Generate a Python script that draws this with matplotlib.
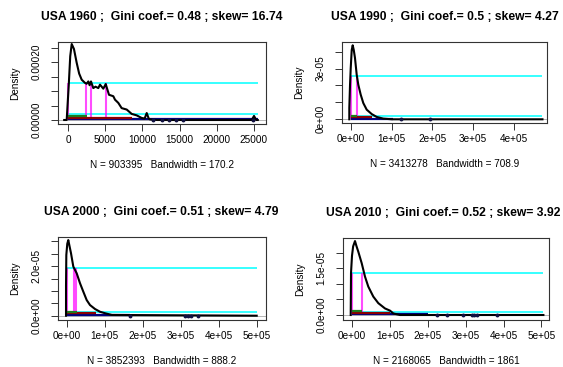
import matplotlib
matplotlib.use('Agg')
import matplotlib.pyplot as plt

plt.rcParams['font.family'] = ['Liberation Sans', 'DejaVu Sans']

W, H = 563, 367

years = ['1960', '1990', '2000', '2010']
gini = ['0.48', '0.5', '0.51', '0.52']
skew = ['16.74', '4.27', '4.79', '3.92']
n_obs = ['903395', '3413278', '3852393', '2168065']
bandwidth = ['170.2', '708.9', '888.2', '1861']

# density curves (income, density)
dens_x_1960 = [-510, -175, 100, 300, 500, 800, 1170, 1500, 1840, 2285, 2500, 2730, 2900, 3090,
               3400, 3700, 4075, 4300, 4745, 5070, 5510, 6090, 6320, 6760, 7210, 7890, 8560,
               9230, 9900, 10300, 10580, 10850, 11020, 12000, 24700, 25000, 25300, 25510]
dens_y_1960 = [0, 0, 1.2e-4, 2.2e-4, 2.62e-4, 2.45e-4, 1.97e-4, 1.6e-4, 1.39e-4, 1.28e-4,
               1.25e-4, 1.33e-4, 1.2e-4, 1.33e-4, 1.1e-4, 1.15e-4, 1.1e-4, 1.22e-4, 1.08e-4,
               1.24e-4, 0.87e-4, 0.82e-4, 0.70e-4, 0.59e-4, 0.41e-4, 0.36e-4, 0.21e-4,
               0.16e-4, 0.07e-4, 0.05e-4, 0.24e-4, 0.05e-4, 0.02e-4, 0, 0, 0.14e-4, 0, 0]

dens_x_1990 = [-3400, -3400, -1700, 0, 2500, 4900, 7500, 10500, 14700, 18600, 24500, 30900,
               39200, 51500, 63700, 79900, 101000, 470000]
dens_y_1990 = [0, 0.67e-5, 2.0e-5, 3.0e-5, 4.1e-5, 4.38e-5, 4.1e-5, 3.63e-5, 2.64e-5, 2.05e-5,
               1.46e-5, 0.96e-5, 0.57e-5, 0.31e-5, 0.14e-5, 0.04e-5, 0, 0]

dens_x_2000 = [-1800, -1800, -1000, 1500, 4200, 7500, 11300, 17400, 26300, 35000, 43700, 52600,
               61300, 74500, 87600, 100800, 119000, 500000]
dens_y_2000 = [0, 1.2e-5, 2.45e-5, 2.9e-5, 3.05e-5, 2.8e-5, 2.52e-5, 1.98e-5, 1.71e-5, 1.31e-5,
               0.97e-5, 0.63e-5, 0.43e-5, 0.27e-5, 0.16e-5, 0.10e-5, 0.03e-5, 0]

dens_x_2010 = [-3400, -2600, 0, 3000, 7900, 12000, 16600, 25600, 34300, 43000, 56200, 69400,
               87100, 100300, 109000, 126600, 505000]
dens_y_2010 = [0, 1.35e-5, 1.9e-5, 2.2e-5, 2.37e-5, 2.2e-5, 2.03e-5, 1.66e-5, 1.23e-5, 0.91e-5,
               0.59e-5, 0.38e-5, 0.21e-5, 0.14e-5, 0.05e-5, 0, 0]

# isolated incomes far out in the tail
tail_x = [[11470, 12590, 13580, 14480, 15500, 24910],
          [122500, 194000],
          [166800, 311000, 318000, 326000, 346000],
          [223000, 250000, 294000, 316000, 322000, 329000, 383000]]

# cyan reference levels and their extent
cyan_hi = [1.28e-4, 2.56e-5, 1.91e-5, 1.36e-5]
cyan_lo = [1.97e-5, 0.18e-5, 0.14e-5, 0.09e-5]
cyan_end = [25500, 470000, 500000, 505000]

# magenta verticals (income)
magenta_x = [[0, 2380, 3050, 5070], [0, 15000], [0, 19500, 23500], [0, 25600]]

# quantile bars along the bottom: (end, level)
green_bar = [(2510, 1.48e-5), (14700, 0.21e-5), (26300, 0.16e-5), (25600, 0.13e-5)]
red_bar = [(8560, 0.79e-5), (51500, 0.12e-5), (78000, 0.10e-5), (100000, 0.07e-5)]
navy_bar = [(25500, 0.24e-5), (103700, 0.04e-5), (167000, 0.03e-5), (201000, 0.02e-5)]

xticks = [[0, 5000, 10000, 15000, 20000, 25000],
          [0, 1e5, 2e5, 3e5, 4e5],
          [0, 1e5, 2e5, 3e5, 4e5, 5e5],
          [0, 1e5, 2e5, 3e5, 4e5, 5e5]]
xticklabels = [['0', '5000', '10000', '15000', '20000', '25000'],
               ['0e+00', '1e+05', '2e+05', '3e+05', '4e+05'],
               ['0e+00', '1e+05', '2e+05', '3e+05', '4e+05', '5e+05'],
               ['0e+00', '1e+05', '2e+05', '3e+05', '4e+05', '5e+05']]
yticks = [[0, 5e-5, 1e-4, 1.5e-4, 2e-4, 2.5e-4],
          [0, 1e-5, 2e-5, 3e-5, 4e-5],
          [0, 0.5e-5, 1e-5, 1.5e-5, 2e-5, 2.5e-5, 3e-5],
          [0, 0.5e-5, 1e-5, 1.5e-5, 2e-5]]
yticklabels = [['0.00000', '', '', '', '0.00020', ''],
               ['0e+00', '', '', '3e-05', ''],
               ['0.0e+00', '', '', '', '2.0e-05', '', ''],
               ['0.0e+00', '', '', '1.5e-05', '']]

xlims = [(-1344, 26613), (-21320, 481100), (-22900, 524500), (-23750, 519800)]
ylims = [(-1.38e-5, 2.69e-4), (-0.219e-5, 4.574e-5), (-0.173e-5, 3.173e-5), (-0.16e-5, 2.468e-5)]

# plot boxes in pixels: left, top, right, bottom
boxes = [(58, 42, 266, 124), (342, 42, 547, 123), (58, 237, 266, 320), (343, 238, 549, 320)]
title_cx = [162, 445, 161, 443]

curves = [(dens_x_1960, dens_y_1960), (dens_x_1990, dens_y_1990),
          (dens_x_2000, dens_y_2000), (dens_x_2010, dens_y_2010)]

fig = plt.figure(figsize=(W / 100, H / 100), dpi=100)

for i in range(4):
    l, t, r, b = boxes[i]
    ax = fig.add_axes([l / W, 1 - b / H, (r - l) / W, (b - t) / H])
    ax.set_xlim(*xlims[i])
    ax.set_ylim(*ylims[i])

    ax.axhline(0, color='#aaaaaa', lw=0.6, zorder=1)
    ax.hlines([cyan_hi[i], cyan_lo[i]], 0, cyan_end[i], color='#00ffff', lw=1.1, zorder=2)
    ax.vlines(magenta_x[i], 0, cyan_hi[i], color='#ff00ff', lw=1.5, alpha=0.7, zorder=3)

    for (end, lev), col in zip([navy_bar[i], red_bar[i], green_bar[i]],
                               ['#000080', '#8b0000', '#1e7b1e']):
        ax.hlines(lev, 0, end, color=col, lw=1.6, zorder=4)

    x, y = curves[i]
    ax.plot(x, y, color='black', lw=1.5, zorder=5)
    ax.plot(tail_x[i], [0] * len(tail_x[i]), 'o', color='#101040', ms=1.8, zorder=5)

    ax.set_xticks(xticks[i])
    ax.set_xticklabels(xticklabels[i])
    ax.set_yticks(yticks[i])
    ax.set_yticklabels(yticklabels[i], rotation=90, va='center')
    ax.tick_params(length=4.7, width=0.7, labelsize=7.2, color='#333333', pad=3.5)
    ax.tick_params(axis='y', pad=7)
    for sp in ax.spines.values():
        sp.set_linewidth(0.8)
        sp.set_color('#333333')

    fig.text(title_cx[i] / W, 1 - (t - 25) / H,
             f'USA {years[i]} ;  Gini coef.= {gini[i]} ; skew= {skew[i]}',
             ha='center', va='center', fontsize=8.7, fontweight='bold')
    fig.text((l + r) / 2 / W, 1 - (b + 41) / H,
             f'N = {n_obs[i]}   Bandwidth = {bandwidth[i]}',
             ha='center', va='center', fontsize=7.2)
    fig.text((l - 43) / W, 1 - ((t + b) / 2) / H, 'Density',
             ha='center', va='center', rotation=90, fontsize=7.2)

fig.savefig('out.png', dpi=100)
